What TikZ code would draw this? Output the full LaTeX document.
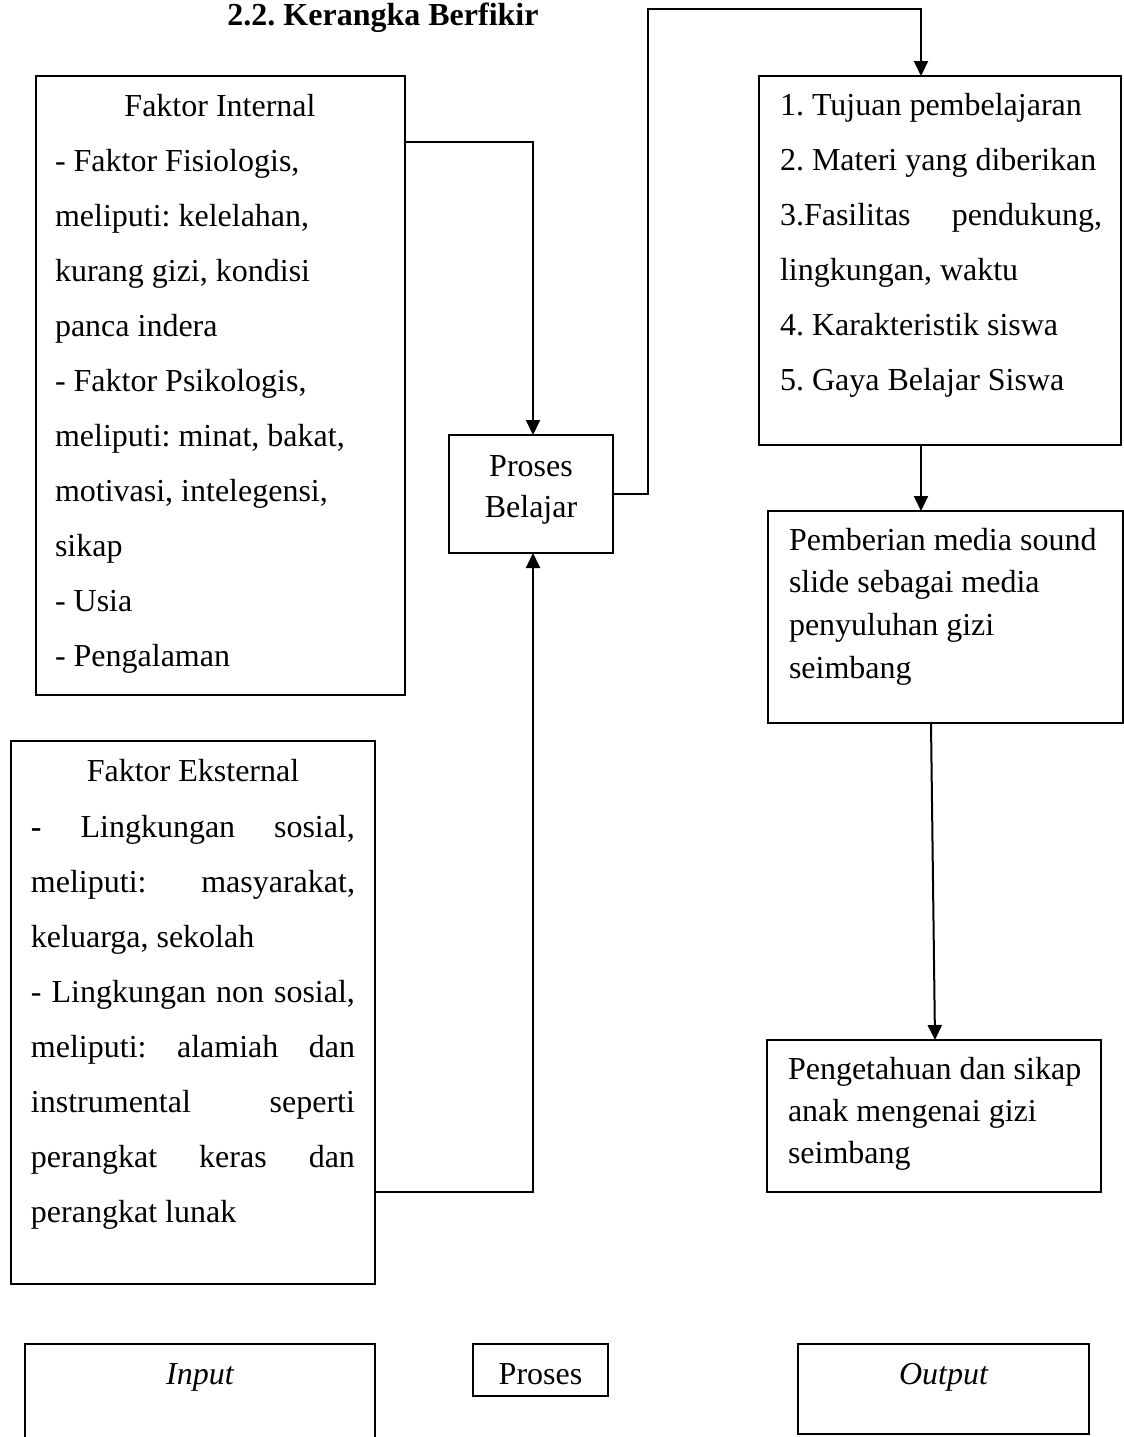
\documentclass[tikz,border=0pt]{standalone}
\usepackage{fontspec}
\setmainfont{Liberation Serif}
\usetikzlibrary{arrows.meta}
\frenchspacing
\newcommand{\txtl}[2]{{\fontsize{16}{#1}\selectfont\begin{tabular}[t]{@{}l@{}}#2\end{tabular}}}
\newcommand{\txtc}[2]{{\fontsize{16}{#1}\selectfont\begin{tabular}[t]{@{}c@{}}#2\end{tabular}}}
\newcommand{\jst}[2]{\makebox[#1][s]{#2}}
\begin{document}
\begin{tikzpicture}[x=0.5pt,y=-0.5pt,
  boxst/.style={draw, line width=1pt, inner sep=0pt, outer sep=0pt, anchor=north west},
  txt/.style={inner sep=0pt, outer sep=0pt, font=\fontsize{16}{19}\selectfont},
  conn/.style={line width=1pt},
  arr/.style={conn, -{Triangle[length=7.5pt,width=7pt]}}]
\useasboundingbox (0,0) rectangle (1124,1437);
\clip (0,0) rectangle (1124,1437);

% title
\node[txt, anchor=base, font=\fontsize{16}{19}\selectfont\bfseries] (ttl) at (383,25) {2.2. Kerangka Berfikir};

% Faktor Internal
\node[boxst, minimum width=184.5pt, minimum height=309.5pt] (fi) at (36,76) {};
\node[txt, anchor=base] (fih) at (220,116) {Faktor Internal};
\node[txt, anchor=base west] (fit) at (55,171) {\txtl{27.5pt}{%
- Faktor Fisiologis,\\
meliputi: kelelahan,\\
kurang gizi, kondisi\\
panca indera\\
- Faktor Psikologis,\\
meliputi: minat, bakat,\\
motivasi, intelegensi,\\
sikap\\
- Usia\\
- Pengalaman}};

% Faktor Eksternal
\node[boxst, minimum width=182pt, minimum height=271.5pt] (fe) at (11,741) {};
\node[txt, anchor=base] (feh) at (193,781) {Faktor Eksternal};
\node[txt, anchor=base west] (fet) at (31,837) {\txtl{27.5pt}{%
\jst{162pt}{\textbf{-} Lingkungan sosial,}\\
\jst{162pt}{meliputi: masyarakat,}\\
keluarga, sekolah\\
\jst{162pt}{- Lingkungan non sosial,}\\
\jst{162pt}{meliputi: alamiah dan}\\
\jst{162pt}{instrumental seperti}\\
\jst{162pt}{perangkat keras dan}\\
perangkat lunak}};

% Proses Belajar
\node[boxst, minimum width=82pt, minimum height=59pt] (pb) at (449,435) {};
\node[txt, anchor=base] (pbt) at (531,476) {\txtc{20.5pt}{Proses\\Belajar}};

% list box
\node[boxst, minimum width=181pt, minimum height=184.5pt] (lst) at (759,76) {};
\node[txt, anchor=base west] (lstt) at (780,115) {\txtl{27.5pt}{%
1. Tujuan pembelajaran\\
2. Materi yang diberikan\\
\jst{161pt}{3.Fasilitas pendukung,}\\
lingkungan, waktu\\
4. Karakteristik siswa\\
5. Gaya Belajar Siswa}};

% Pemberian media
\node[boxst, minimum width=177.5pt, minimum height=106pt] (pm) at (768,511) {};
\node[txt, anchor=base west] (pmt) at (789,550) {\txtl{21.35pt}{%
Pemberian media sound\\
slide sebagai media\\
penyuluhan gizi\\
seimbang}};

% Pengetahuan
\node[boxst, minimum width=167pt, minimum height=76pt] (pg) at (767,1040) {};
\node[txt, anchor=base west] (pgt) at (788,1079) {\txtl{21pt}{%
Pengetahuan dan sikap\\
anak mengenai gizi\\
seimbang}};

% bottom row
\node[boxst, minimum width=175pt, minimum height=63pt] (inp) at (25,1344) {};
\node[txt, anchor=base, font=\fontsize{16}{19}\selectfont\itshape] (inpt) at (200,1384) {Input};
\node[boxst, minimum width=67.5pt, minimum height=26pt] (prs) at (473,1344) {};
\node[txt, anchor=base] (prst) at (540.5,1384) {Proses};
\node[boxst, minimum width=145.5pt, minimum height=45pt] (out) at (798,1344) {};
\node[txt, anchor=base, font=\fontsize{16}{19}\selectfont\itshape] (outt) at (943.5,1384) {Output};

% connectors
\coordinate (c1) at (533,142);
\draw[arr] (fi.east |- c1) -- (c1) -- (c1 |- pb.north);

\coordinate (c6) at (533,1192);
\draw[arr] (fe.east |- c6) -- (c6) -- (c6 |- pb.south);

\coordinate (c2) at (648,9);
\coordinate (c3) at (921,9);
\draw[arr] (pb.east) -| (c2) -- (c3) -- (c3 |- lst.north);

\draw[arr] (c3 |- lst.south) -- (c3 |- pm.north);

\coordinate (c4) at (931,0);
\coordinate (c5) at (935,0);
\draw[arr] (c4 |- pm.south) -- (c5 |- pg.north);
\end{tikzpicture}
\end{document}
